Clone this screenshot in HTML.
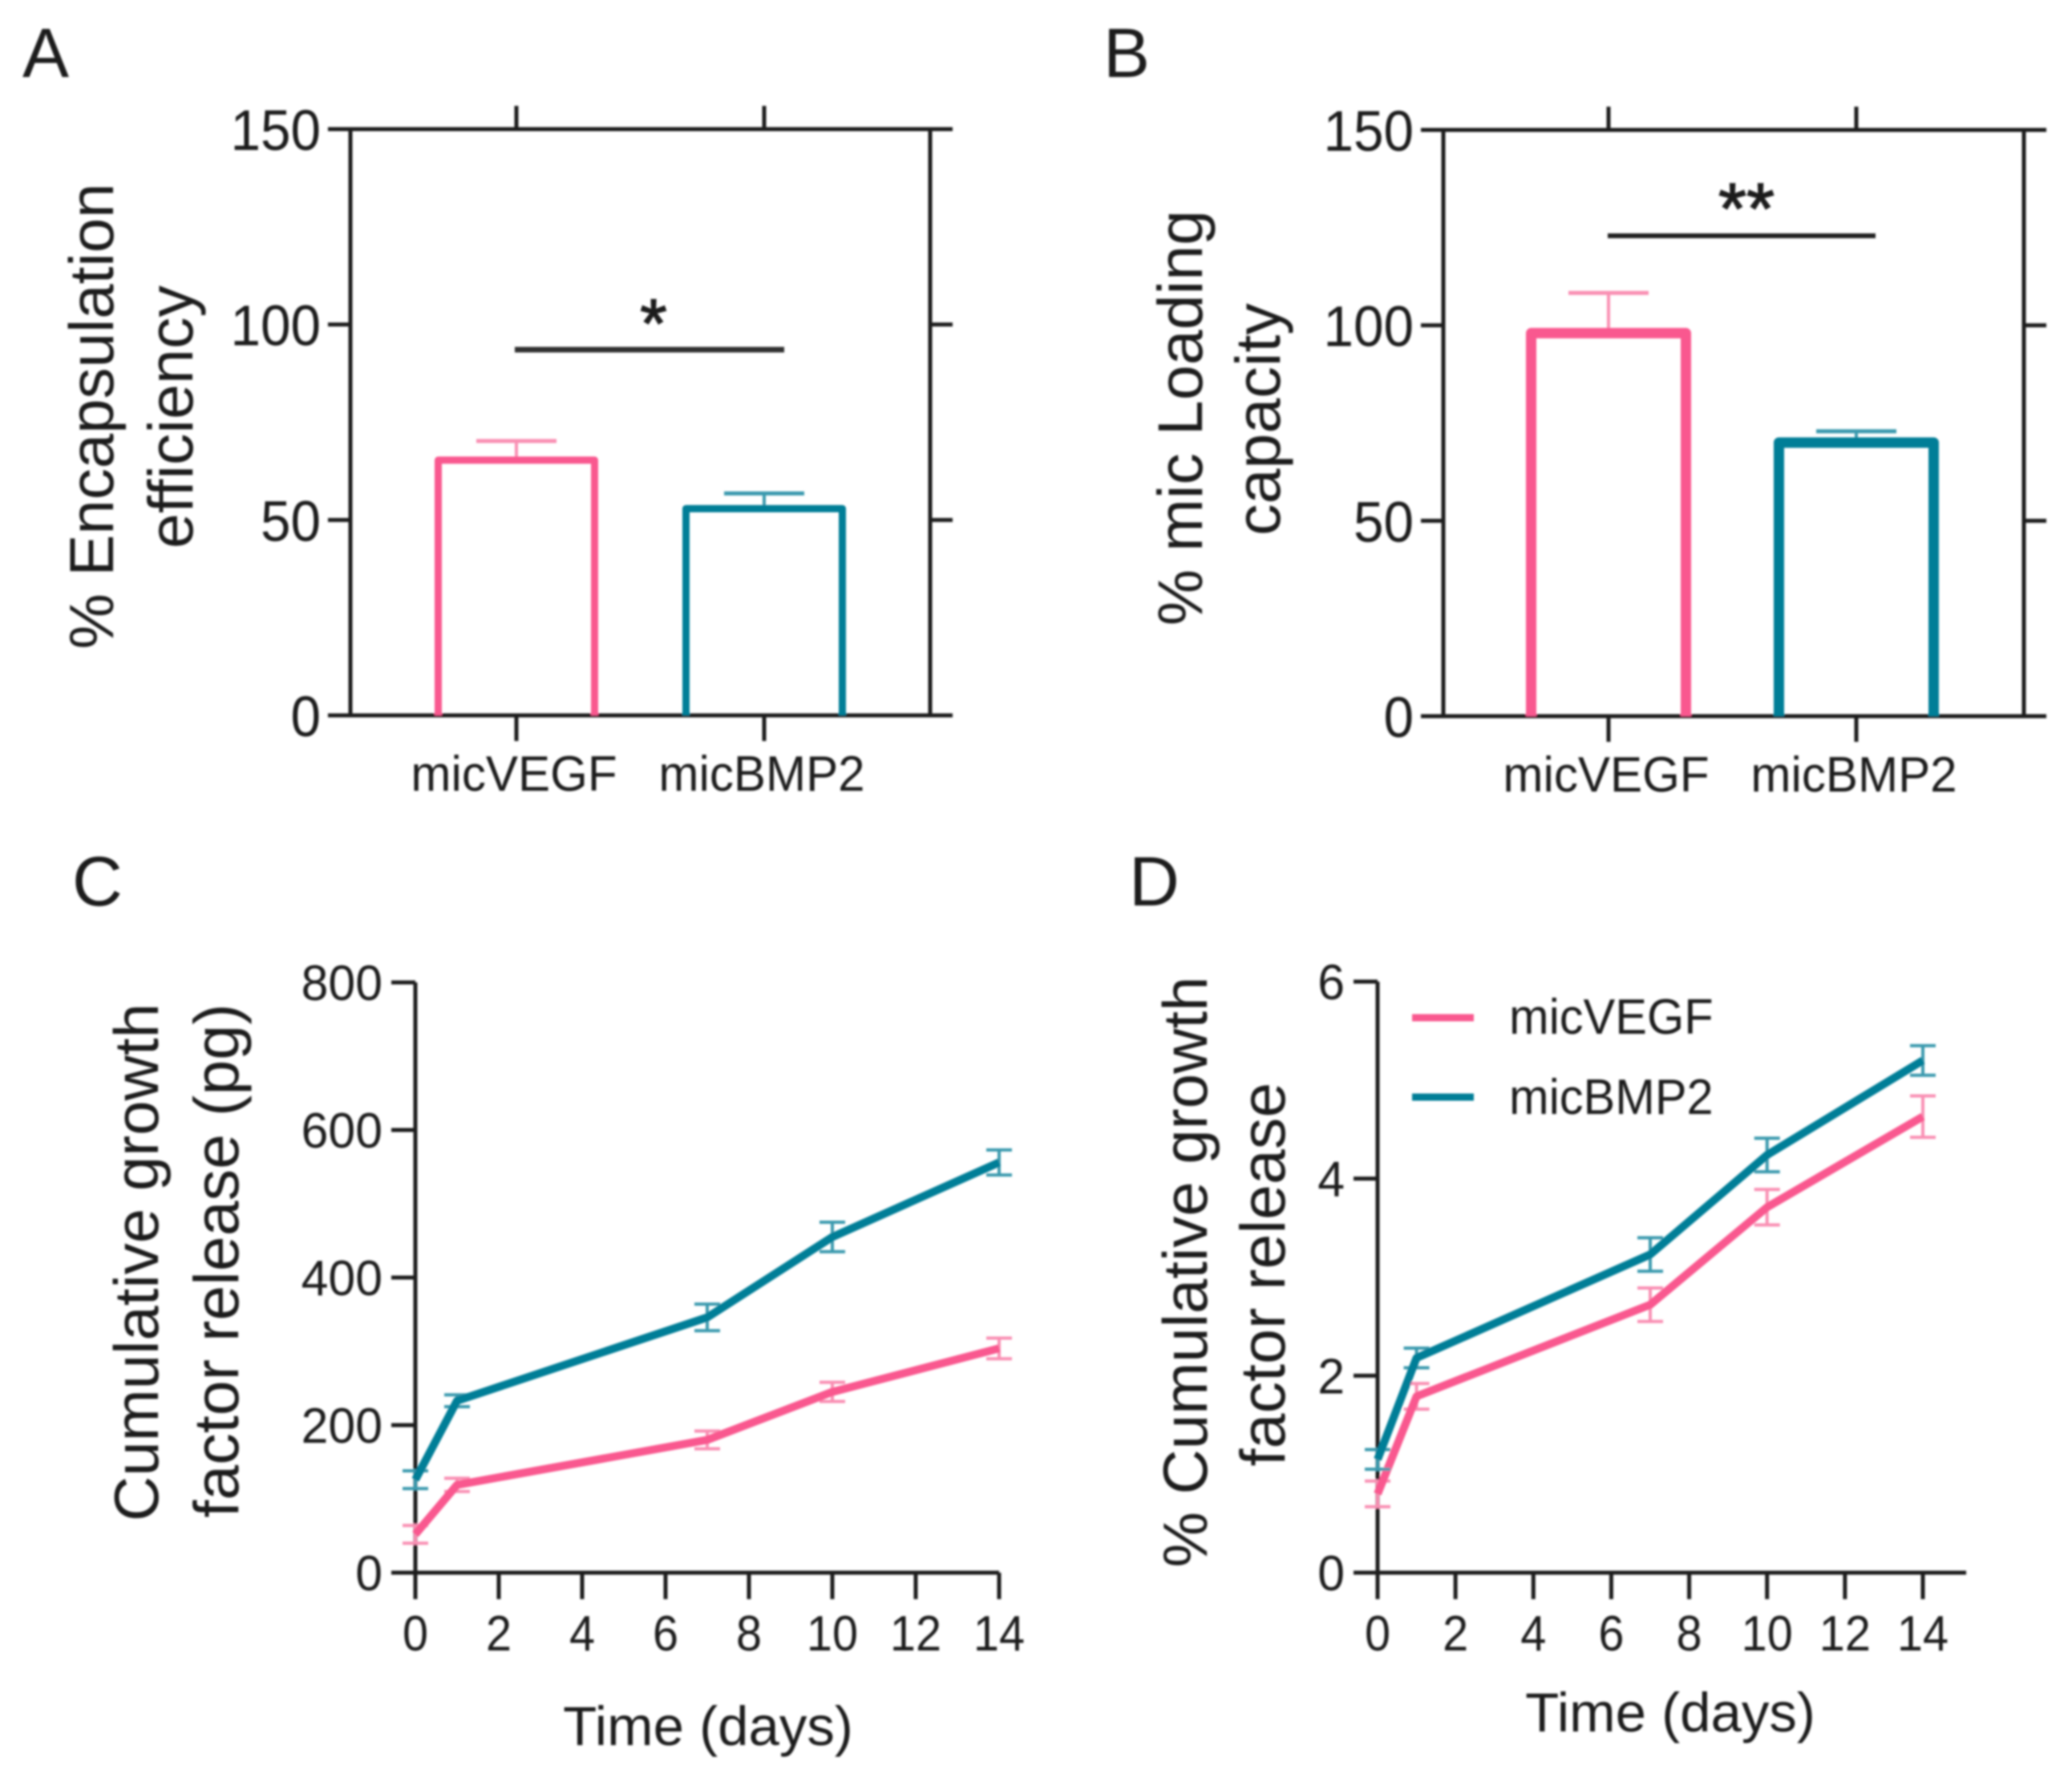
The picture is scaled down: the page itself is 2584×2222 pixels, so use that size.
<!DOCTYPE html>
<html>
<head>
<meta charset="utf-8">
<title>Growth factor encapsulation and release charts</title>
<style>
html,body{margin:0;padding:0;background:#fff;}
svg{display:block;}
text{font-family:"Liberation Sans",sans-serif;fill:#1f1f1f;}
</style>
</head>
<body>
<svg id="figure" xmlns="http://www.w3.org/2000/svg" width="2584" height="2222" viewBox="0 0 2584 2222">
  <defs><filter id="soft" x="-2%" y="-2%" width="104%" height="104%"><feGaussianBlur stdDeviation="1.2"/></filter></defs>
  <rect x="0" y="0" width="2584" height="2222" fill="#fff"/>
  <g id="root" filter="url(#soft)">
    <text x="28" y="96" font-size="87">A</text>
    <text x="1376" y="96" font-size="87">B</text>
    <text x="90" y="1129" font-size="87">C</text>
    <text x="1408" y="1129" font-size="87">D</text>

    <text text-anchor="middle" font-size="78" transform="translate(141,519) rotate(-90)">% Encapsulation</text>
    <text text-anchor="middle" font-size="79" transform="translate(240,520) rotate(-90)">efficiency</text>
    <text text-anchor="middle" font-size="79" transform="translate(1499,521) rotate(-90)">% mic Loading</text>
    <text text-anchor="middle" font-size="79" transform="translate(1596,523) rotate(-90)">capacity</text>
    <text text-anchor="middle" font-size="78" transform="translate(197,1574) rotate(-90)">Cumulative growth</text>
    <text text-anchor="middle" font-size="79" transform="translate(297,1572) rotate(-90)">factor release (pg)</text>
    <text text-anchor="middle" font-size="78" transform="translate(1505,1586) rotate(-90)">% Cumulative growth</text>
    <text text-anchor="middle" font-size="79" transform="translate(1602,1589) rotate(-90)">factor release</text>

    <text text-anchor="middle" font-size="69" x="883" y="2176">Time (days)</text>
    <text text-anchor="middle" font-size="69" x="2083" y="2159">Time (days)</text>

    <text text-anchor="middle" font-size="86" x="815" y="433" stroke="#1f1f1f" stroke-width="1.5">*</text>
    <text text-anchor="middle" font-size="90" x="2178" y="291" stroke="#1f1f1f" stroke-width="1.5">**</text>
    <line x1="642" x2="978" y1="436" y2="436" stroke="#333" stroke-width="7"/>
    <line x1="2005" x2="2339" y1="294" y2="294" stroke="#222" stroke-width="6"/>

    <line x1="1761" x2="1838" y1="1269" y2="1269" stroke="#f9588f" stroke-width="9"/>
    <line x1="1761" x2="1838" y1="1368" y2="1368" stroke="#007e97" stroke-width="9"/>
    <text font-size="62" transform="translate(1882,1289) scale(0.96,1)">micVEGF</text>
    <text font-size="62" transform="translate(1882,1389) scale(0.96,1)">micBMP2</text>
  </g>
</svg>
<script>
// Bar chart data
const barCategories = ['micVEGF', 'micBMP2'];
const barYTicks = [0, 50, 100, 150];
const encapsulationValues = [65.3, 52.9];
const encapsulationErrors = [4.9, 3.9];
const loadingValues = [98, 70];
const loadingErrors = [10.3, 2.9];

// Line chart data
const days = [0, 1, 7, 10, 14];
const xTickLabels = [0, 2, 4, 6, 8, 10, 12, 14];
const massYTicks = [0, 200, 400, 600, 800];
const massVegf = [52, 119, 180, 245, 304];
const massVegfErr = [12, 9, 12, 13, 14];
const massBmp = [126, 233, 346, 455, 556];
const massBmpErr = [12, 8, 18, 20, 17];
const pctYTicks = [0, 2, 4, 6];
const pctVegf = [0.8, 1.79, 2.72, 3.71, 4.63];
const pctVegfErr = [0.13, 0.13, 0.17, 0.18, 0.21];
const pctBmp = [1.15, 2.18, 3.23, 4.24, 5.2];
const pctBmpErr = [0.1, 0.1, 0.17, 0.17, 0.15];

const PINK = '#f9588f';
const TEAL = '#007e97';
const PINK_ERR = '#f98fb3';
const TEAL_ERR = '#3b9aae';
const AXIS = '#1c1c1c';
const root = document.getElementById('root');
const NS = 'http://www.w3.org/2000/svg';

function drawLine(name, x1, y1, x2, y2, color, width) {
  const el = document.createElementNS(NS, 'line');
  
  
  el.setAttribute('x1', x1);
  el.setAttribute('y1', y1);
  el.setAttribute('x2', x2);
  el.setAttribute('y2', y2);
  el.setAttribute('stroke', color);
  el.setAttribute('stroke-width', width);
  root.appendChild(el);
}

function drawLabel(name, x, y, str, size, sx, anchor) {
  const el = document.createElementNS(NS, 'text');
  
  
  el.setAttribute('font-size', size);
  el.setAttribute('text-anchor', anchor);
  el.setAttribute('transform', 'translate(' + x + ',' + y + ') scale(' + sx + ',1)');
  el.textContent = str;
  root.appendChild(el);
}

function drawPath(name, d, color, width) {
  const el = document.createElementNS(NS, 'path');
  
  
  el.setAttribute('d', d);
  el.setAttribute('fill', 'none');
  el.setAttribute('stroke', color);
  el.setAttribute('stroke-width', width);
  el.setAttribute('stroke-linejoin', 'round');
  root.appendChild(el);
}

function barPanel(id, box, values, errors) {
  const yScale = v => box.bottom - (v / 150) * (box.bottom - box.top);
  const xScale = i => box.firstCenter + i * box.step;
  const colors = [PINK, TEAL];
  const errColors = [PINK_ERR, TEAL_ERR];
  // axes frame
  drawLine(id + '-y-axis', box.left, box.top, box.left, box.bottom, AXIS, 5);
  drawLine(id + '-right-axis', box.right, box.top, box.right, box.bottom, AXIS, 5);
  drawLine(id + '-top-axis', box.left - 28, box.top, box.right + 28, box.top, AXIS, 5);
  drawLine(id + '-x-axis', box.left - 28, box.bottom, box.right + 28, box.bottom, AXIS, 5);
  barYTicks.forEach(t => {
    const y = yScale(t);
    drawLine(id + '-y-tick-' + t, box.left - 28, y, box.left, y, AXIS, 5);
    drawLine(id + '-right-tick-' + t, box.right, y, box.right + 28, y, AXIS, 5);
    drawLabel(id + '-y-tick-label-' + t, box.left - 37, y + 26, String(t), 71, 0.95, 'end');
  });
  barCategories.forEach((c, i) => {
    const cx = xScale(i);
    const name = c.toLowerCase();
    drawLine(id + '-top-tick-' + name, cx, box.top, cx, box.top - 29, AXIS, 5);
    drawLine(id + '-bottom-tick-' + name, cx, box.bottom, cx, box.bottom + 32, AXIS, 5);
    drawLabel(id + '-x-tick-label-' + name, cx - 3, box.bottom + 94, c, 62, 0.97, 'middle');
    const topY = yScale(values[i]);
    const errY = yScale(values[i] + errors[i]);
    drawLine(id + '-error-stem-' + name, cx, topY, cx, errY, errColors[i], 4);
    drawLine(id + '-error-cap-' + name, cx - 50, errY, cx + 50, errY, errColors[i], 5);
    const half = box.barWidth / 2 - box.barStroke / 2;
    const d = 'M' + (cx - half) + ' ' + box.bottom + 'V' + topY + 'H' + (cx + half) + 'V' + box.bottom;
    drawPath(id + '-bar-' + name, d, colors[i], box.barStroke);
  });
}

function linePanel(id, box, yTicks, yMax, series) {
  const xScale = v => box.left + (v / 14) * (box.x14 - box.left);
  const yScale = v => box.bottom - (v / yMax) * (box.bottom - box.top);
  drawLine(id + '-y-axis', box.left, box.top, box.left, box.bottom, AXIS, 5);
  drawLine(id + '-x-axis', box.left - 30, box.bottom, box.right, box.bottom, AXIS, 5);
  yTicks.forEach(t => {
    const y = yScale(t);
    drawLine(id + '-y-tick-' + t, box.left - 30, y, box.left, y, AXIS, 5);
    drawLabel(id + '-y-tick-label-' + t, box.left - 41, y + 22, String(t), 62, box.ySx, 'end');
  });
  xTickLabels.forEach(t => {
    const x = xScale(t);
    drawLine(id + '-x-tick-' + t, x, box.bottom, x, box.bottom + 33, AXIS, 5);
    drawLabel(id + '-x-tick-label-' + t, x, 2058, String(t), 62, 0.93, 'middle');
  });
  series.forEach(s => {
    s.values.forEach((v, i) => {
      const x = xScale(days[i]);
      const hi = yScale(v + s.errors[i]);
      const lo = yScale(v - s.errors[i]);
      drawLine(id + '-' + s.name + '-error-stem-' + days[i], x, hi, x, lo, s.errColor, 4);
      drawLine(id + '-' + s.name + '-error-cap-high-' + days[i], x - 16, hi, x + 16, hi, s.errColor, 4);
      drawLine(id + '-' + s.name + '-error-cap-low-' + days[i], x - 16, lo, x + 16, lo, s.errColor, 4);
    });
    const d = s.values.map((v, i) => (i ? 'L' : 'M') + xScale(days[i]) + ' ' + yScale(v)).join('');
    drawPath(id + '-' + s.name + '-line', d, s.color, 10);
  });
}

barPanel('a', {left: 437, right: 1160, top: 161, bottom: 892, firstCenter: 644, step: 309, barWidth: 204, barStroke: 9}, encapsulationValues, encapsulationErrors);
barPanel('b', {left: 1800, right: 2524, top: 162, bottom: 893, firstCenter: 2006, step: 309, barWidth: 206, barStroke: 13}, loadingValues, loadingErrors);
linePanel('c', {left: 518, x14: 1246, right: 1246, top: 1225, bottom: 1961, ySx: 0.98}, massYTicks, 800, [
  {name: 'micvegf', values: massVegf, errors: massVegfErr, color: PINK, errColor: PINK_ERR},
  {name: 'micbmp2', values: massBmp, errors: massBmpErr, color: TEAL, errColor: TEAL_ERR}
]);
linePanel('d', {left: 1718, x14: 2398, right: 2452, top: 1224, bottom: 1961, ySx: 0.98}, pctYTicks, 6, [
  {name: 'micvegf', values: pctVegf, errors: pctVegfErr, color: PINK, errColor: PINK_ERR},
  {name: 'micbmp2', values: pctBmp, errors: pctBmpErr, color: TEAL, errColor: TEAL_ERR}
]);
</script>
</body>
</html>
